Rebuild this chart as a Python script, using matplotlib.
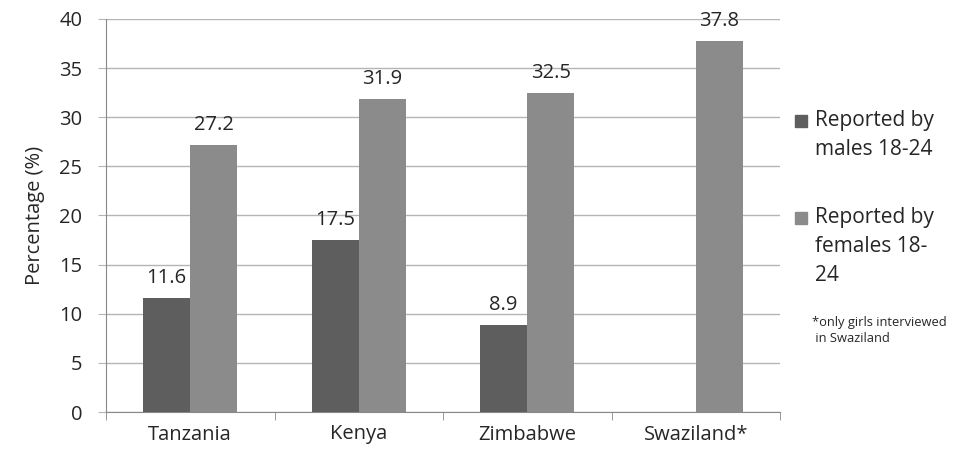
import numpy as np
import matplotlib.pyplot as plt
from matplotlib.patches import Rectangle

plt.rcParams['font.family'] = ['Open Sans', 'DejaVu Sans']

# data
countries = ["Tanzania", "Kenya", "Zimbabwe", "Swaziland*"]
males = [11.6, 17.5, 8.9, None]
females = [27.2, 31.9, 32.5, 37.8]
male_label = "Reported by\nmales 18-24"
female_label = "Reported by\nfemales 18-\n24"
note = "*only girls interviewed\n in Swaziland"

c_male = "#5e5e5e"
c_female = "#8b8b8b"
txt = '#262626'
fs = 14.5

fig = plt.figure(figsize=(9.58, 4.62), dpi=100)
ax = fig.add_axes([106 / 958, 50 / 462, 674 / 958, 393 / 462])

x = np.arange(len(countries))
w = 0.28
for i in range(len(countries)):
    if males[i] is not None:
        ax.bar(x[i] - w / 2, males[i], w, color=c_male, zorder=3)
        ax.text(x[i] - w / 2, males[i] + 1.0, f"{males[i]}", ha='center', va='bottom',
                fontsize=fs, color=txt)
    ax.bar(x[i] + w / 2, females[i], w, color=c_female, zorder=3)
    ax.text(x[i] + w / 2, females[i] + 1.0, f"{females[i]}", ha='center', va='bottom',
            fontsize=fs, color=txt)

ax.set_xlim(-0.5, len(countries) - 0.5)
ax.set_ylim(0, 40)
ax.set_yticks(range(0, 41, 5))
ax.set_xticks(x)
ax.set_xticklabels(countries, fontsize=fs, color=txt)
ax.set_xticks(np.arange(-0.5, len(countries), 1), minor=True)
ax.tick_params(axis='x', which='major', length=0, pad=9)
ax.tick_params(axis='x', which='minor', length=6, color='#888888')
ax.tick_params(axis='y', length=6, color='#b5b5b5', labelsize=fs, labelcolor=txt, pad=11)
ax.yaxis.grid(True, color='#b5b5b5', linewidth=1, zorder=0)
ax.set_ylabel("Percentage (%)", fontsize=fs, color=txt, labelpad=10)

for s in ['top', 'right']:
    ax.spines[s].set_visible(False)
ax.spines['left'].set_color('#888888')
ax.spines['bottom'].set_color('#888888')

# legend drawn by hand
fig.patches.append(Rectangle((795 / 958, 1 - 127 / 462), 12 / 958, 12 / 462,
                             transform=fig.transFigure, color=c_male))
fig.text(815 / 958, 1 - 110 / 462, male_label, fontsize=15, va='top', ha='left',
         color=txt, linespacing=1.5)
fig.patches.append(Rectangle((795 / 958, 1 - 224 / 462), 12 / 958, 12 / 462,
                             transform=fig.transFigure, color=c_female))
fig.text(815 / 958, 1 - 207 / 462, female_label, fontsize=15, va='top', ha='left',
         color=txt, linespacing=1.5)
fig.text(812 / 958, 1 - 316 / 462, note, fontsize=9.3, va='top', ha='left',
         color=txt, linespacing=1.25)

fig.savefig("out.png", dpi=100)
